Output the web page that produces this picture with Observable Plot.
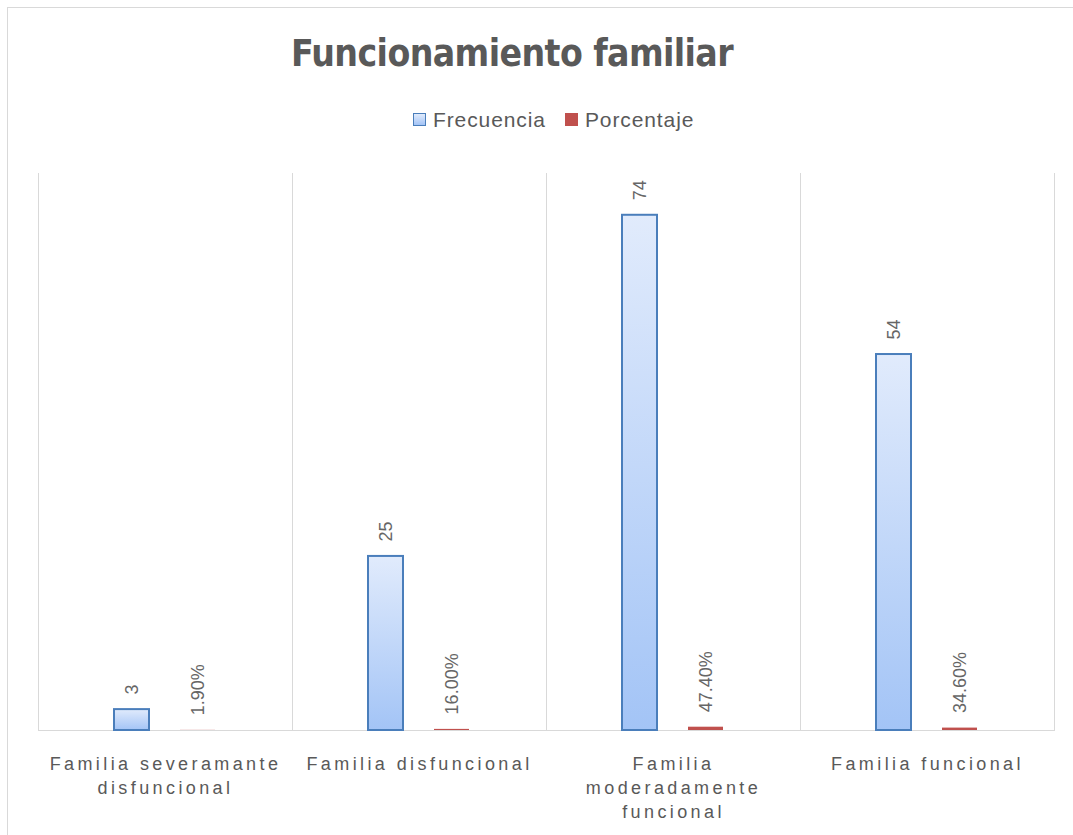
<!DOCTYPE html>
<html>
<head>
<meta charset="utf-8">
<script src="https://cdn.jsdelivr.net/npm/d3@7"></script>
<script src="https://cdn.jsdelivr.net/npm/@observablehq/plot@0.6"></script>
<style>
  html, body { margin: 0; padding: 0; background: #fff; width: 1073px; height: 835px; overflow: hidden; }
  #chart { position: relative; width: 1073px; height: 835px; font-family: "Liberation Sans", Arial, sans-serif; color: #595959; }
  #border { position: absolute; left: 7px; top: 7px; width: 1100px; height: 900px; border: 1px solid #d9d9d9; box-sizing: border-box; }
  #title { position: absolute; left: 0; width: 1024px; top: 35px; text-align: center;
           font-family: "DejaVu Sans Condensed", "DejaVu Sans", sans-serif; font-weight: bold; font-size: 37px;
           letter-spacing: -0.6px; line-height: 1; }
  #legend { position: absolute; left: 413px; top: 109px; display: flex; align-items: center; font-size: 21px; letter-spacing: 0.9px; line-height: 1; }
  #legend .item { display: flex; align-items: center; margin-right: 19px; }
  #legend .sw { width: 13px; height: 13px; margin-right: 7px; box-sizing: border-box; }
  #plot { position: absolute; left: 0; top: 150px; }
</style>
</head>
<body>
<div id="chart">
  <div id="border"></div>
  <div id="title">Funcionamiento familiar</div>
  <div id="legend">
    <div class="item"><div class="sw" style="background: linear-gradient(#e1ebfc, #a3c4f6); border: 1px solid #4a7ebb;"></div>Frecuencia</div>
    <div class="item"><div class="sw" style="background: #c0504d;"></div>Porcentaje</div>
  </div>
  <div id="plot"></div>
</div>
<script>
// Categorías de funcionamiento familiar
const categories = [
  "Familia severamante disfuncional",
  "Familia disfuncional",
  "Familia moderadamente funcional",
  "Familia funcional"
];
// Etiquetas del eje, con sus saltos de línea
const categoryLabels = [
  "Familia severamante\ndisfuncional",
  "Familia disfuncional",
  "Familia\nmoderadamente\nfuncional",
  "Familia funcional"
];
const series = ["Frecuencia", "Porcentaje"];
const frecuencia = [3, 25, 74, 54];
const porcentaje = [0.019, 0.16, 0.474, 0.346];

const rows = categories.flatMap((c, i) => [
  {categoria: c, serie: series[0], valor: frecuencia[i], etiqueta: d3.format("d")(frecuencia[i])},
  {categoria: c, serie: series[1], valor: porcentaje[i], etiqueta: d3.format(".2%")(porcentaje[i])}
]);
const axisRows = categories.map((c, i) => ({categoria: c, etiqueta: categoryLabels[i]}));

// Degradado vertical de las barras de frecuencia
const gradient = () => {
  const defs = d3.create("svg:defs");
  const g = defs.append("linearGradient").attr("id", "grad-frecuencia")
    .attr("x1", 0).attr("y1", 0).attr("x2", 0).attr("y2", 1);
  g.append("stop").attr("offset", "0%").attr("stop-color", "#e1ebfc");
  g.append("stop").attr("offset", "100%").attr("stop-color", "#a3c4f6");
  return defs.node();
};

const chart = Plot.plot({
  width: 1073,
  height: 685,
  marginLeft: 37,
  marginRight: 18,
  marginTop: 23,
  marginBottom: 105,
  fx: {domain: categories, padding: 0, axis: null},
  x: {domain: series, paddingInner: 0.463, paddingOuter: 1.13, axis: null},
  y: {domain: [0, 80], axis: null},
  style: {fontFamily: "Liberation Sans, Arial, sans-serif", color: "#595959", background: "transparent"},
  marks: [
    gradient,
    Plot.frame({anchor: "left", stroke: "#d9d9d9"}),
    Plot.frame({anchor: "right", stroke: "#d9d9d9"}),
    Plot.ruleY([0], {stroke: "#d9d9d9", strokeWidth: 1.2}),
    Plot.barY(rows.filter(d => d.serie === "Frecuencia"), {
      fx: "categoria", x: "serie", y: "valor",
      fill: "url(#grad-frecuencia)", stroke: "#4a7ebb", strokeWidth: 2
    }),
    Plot.barY(rows.filter(d => d.serie === "Porcentaje"), {
      fx: "categoria", x: "serie", y: "valor", fill: "#c0504d"
    }),
    Plot.text(rows, {
      fx: "categoria", x: "serie", y: "valor", text: "etiqueta",
      rotate: -90, textAnchor: "start", dy: -15, fontSize: 18, fill: "#666666"
    }),
    Plot.text(axisRows, {
      fx: "categoria", text: "etiqueta", frameAnchor: "bottom", lineAnchor: "top",
      dy: 23, fontSize: 18, lineHeight: 1.33, fill: "#595959"
    })
  ]
});

// Espaciado de letras de las etiquetas de categoría
const flatLabels = new Set(categoryLabels.map(s => s.replace(/\n/g, "")));
d3.select(chart).selectAll("text")
  .filter(function() { return flatLabels.has(this.textContent); })
  .style("letter-spacing", "3.4px");

document.getElementById("plot").appendChild(chart);
</script>
</body>
</html>
